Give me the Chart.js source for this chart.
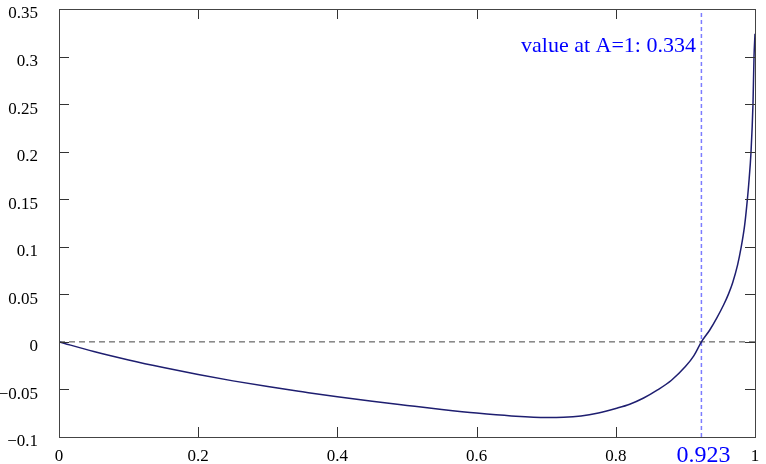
<!DOCTYPE html>
<html>
<head>
<meta charset="utf-8">
<script src="https://cdn.jsdelivr.net/npm/chart.js@4.4.1/dist/chart.umd.min.js"></script>
<style>
  body { margin: 0; background: #fff; }
</style>
</head>
<body>
<canvas id="grafico" width="766" height="464"></canvas>
<script>
// valores
const aValues = [0, 0.05, 0.1, 0.15, 0.2, 0.25, 0.3, 0.35, 0.4, 0.45, 0.5, 0.55, 0.6, 0.65, 0.7, 0.725, 0.75, 0.775, 0.8, 0.82, 0.84, 0.86, 0.88, 0.9, 0.912, 0.923, 0.935, 0.945, 0.955, 0.962, 0.968, 0.975, 0.98, 0.985, 0.988, 0.991, 0.9943, 0.9971, 0.9986, 1];
const fValues = [0, -0.0101, -0.019, -0.027, -0.0343, -0.041, -0.047, -0.0525, -0.0578, -0.0625, -0.0668, -0.071, -0.0748, -0.0778, -0.0795, -0.0793, -0.078, -0.0748, -0.07, -0.0655, -0.059, -0.0505, -0.0403, -0.026, -0.0147, 0, 0.0125, 0.025, 0.039, 0.0505, 0.0625, 0.081, 0.099, 0.122, 0.142, 0.166, 0.2, 0.25, 0.3, 0.324];
const zeroCross = 0.923;
const valueAtOne = 0.334;
const xTicks = [0, 0.2, 0.4, 0.6, 0.8, 1];
const yTicks = [-0.1, -0.05, 0, 0.05, 0.1, 0.15, 0.2, 0.25, 0.3, 0.35];

function formataTick(v) {
  return Number(v.toFixed(2)).toString().replace('-', '\u2212');
}

const molduraPlugin = {
  id: 'moldura',
  afterDraw(chart) {
    const ctx = chart.ctx;
    const area = chart.chartArea;
    const xs = chart.scales.x;
    const ys = chart.scales.y;
    ctx.save();
    ctx.strokeStyle = '#333';
    ctx.lineWidth = 1;
    ctx.beginPath();
    xTicks.forEach(v => {
      const px = Math.round(xs.getPixelForValue(v)) + 0.5;
      ctx.moveTo(px, area.bottom); ctx.lineTo(px, area.bottom - 10);
      ctx.moveTo(px, area.top); ctx.lineTo(px, area.top + 10);
    });
    yTicks.forEach(v => {
      const py = Math.round(ys.getPixelForValue(v)) + 0.5;
      ctx.moveTo(area.left, py); ctx.lineTo(area.left + 10, py);
      ctx.moveTo(area.right, py); ctx.lineTo(area.right - 10, py);
    });
    ctx.stroke();
    ctx.strokeStyle = '#444';
    ctx.strokeRect(Math.round(area.left) + 0.5, Math.round(area.top) + 0.5,
      Math.round(area.right - area.left), Math.round(area.bottom - area.top));

    ctx.fillStyle = '#0000ff';
    ctx.font = '24px "Liberation Serif"';
    ctx.textAlign = 'center';
    ctx.textBaseline = 'alphabetic';
    ctx.fillText(String(zeroCross), xs.getPixelForValue(zeroCross) + 2, 462);

    ctx.font = '22px "Liberation Serif"';
    ctx.textAlign = 'left';
    ctx.fillText('value at A=1: ' + valueAtOne, 521, 52);
    ctx.restore();
  }
};

function geraGrafico() {
  const canvaGrafico = document.getElementById('grafico');
  const curva = aValues.map((a, i) => ({ x: a, y: fValues[i] }));

  new Chart(canvaGrafico, {
    type: 'line',
    data: {
      datasets: [{
        data: curva,
        borderColor: '#1e1e70',
        borderWidth: 1.5,
        pointRadius: 0,
        cubicInterpolationMode: 'monotone',
        order: 0
      }, {
        data: [{ x: 0, y: 0 }, { x: 1, y: 0 }],
        borderColor: '#444',
        borderWidth: 1,
        borderDash: [6, 4],
        pointRadius: 0,
        order: 1
      }, {
        data: [{ x: zeroCross, y: -0.1 }, { x: zeroCross, y: 0.35 }],
        borderColor: '#7c7cff',
        borderWidth: 1.5,
        borderDash: [4, 3],
        pointRadius: 0,
        order: 2
      }]
    },
    options: {
      responsive: false,
      animation: false,
      devicePixelRatio: 1,
      layout: { padding: { left: 0, right: 11, top: 9, bottom: 0 } },
      plugins: { legend: { display: false }, tooltip: { enabled: false } },
      scales: {
        x: {
          type: 'linear',
          min: 0,
          max: 1,
          afterBuildTicks: scale => { scale.ticks = xTicks.map(v => ({ value: v })); },
          afterFit: scale => { scale.height = 27; scale.paddingLeft = 0; scale.paddingRight = 0; },
          grid: { display: false },
          border: { display: false },
          ticks: {
            color: '#000',
            padding: 1,
            maxRotation: 0,
            font: { family: 'Liberation Serif', size: 17 },
            callback: v => formataTick(v)
          }
        },
        y: {
          type: 'linear',
          min: -0.1,
          max: 0.35,
          afterBuildTicks: scale => { scale.ticks = yTicks.map(v => ({ value: v })); },
          afterFit: scale => { scale.width = 59; scale.paddingTop = 0; scale.paddingBottom = 0; },
          grid: { display: false },
          border: { display: false },
          ticks: {
            color: '#000',
            padding: 13,
            labelOffset: 5,
            font: { family: 'Liberation Serif', size: 17 },
            callback: v => formataTick(v)
          }
        }
      }
    },
    plugins: [molduraPlugin]
  });
}

geraGrafico();
</script>
</body>
</html>
